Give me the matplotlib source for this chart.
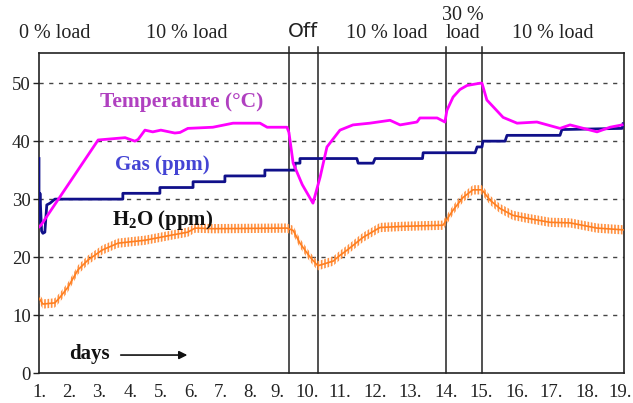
import matplotlib
matplotlib.use("Agg")
import matplotlib.pyplot as plt
import numpy as np

SERIF = "Liberation Serif"
plt.rcParams["mathtext.fontset"] = "custom"
plt.rcParams["mathtext.rm"] = SERIF
plt.rcParams["mathtext.bf"] = SERIF + ":bold"

# x in days
temp_day = [1.0, 1.06, 2.82, 3.65, 3.95, 4.05, 4.26, 4.5, 4.75, 5.18, 5.34, 5.58,
            6.35, 6.97, 7.80, 8.02, 8.63, 8.69, 8.82, 9.10, 9.43, 9.65, 9.86,
            10.26, 10.66, 11.18, 11.80, 12.11, 12.63, 12.72, 13.25, 13.49, 13.55,
            13.74, 13.95, 14.17, 14.57, 14.63, 14.78, 15.28, 15.71, 16.32, 17.03,
            17.34, 18.17, 18.57, 18.94]
temp_val = [25.2, 25.5, 40.2, 40.6, 40.0, 40.3, 41.9, 41.6, 41.9, 41.4, 41.5, 42.2,
            42.4, 43.1, 43.1, 42.4, 42.4, 41.5, 36.2, 32.5, 29.3, 33.8, 39.0,
            41.9, 42.8, 43.1, 43.6, 42.8, 43.3, 44.0, 44.0, 43.3, 45.3,
            47.6, 48.9, 49.6, 50.0, 50.0, 47.1, 44.1, 43.1, 43.3, 42.2,
            42.8, 41.6, 42.4, 42.8]

gas_day = [1.0, 1.0, 1.03, 1.06, 1.08, 1.12, 1.18, 1.24, 1.34, 1.49, 3.58, 3.58,
           4.72, 4.72, 5.74, 5.74, 6.72, 6.72, 7.95, 7.95, 8.88, 8.88, 9.03, 9.03,
           10.78, 10.82, 11.28, 11.34, 12.80, 12.82, 14.42, 14.48, 14.63, 14.66,
           15.34, 15.40, 17.03, 17.09, 18.94, 18.97]
gas_val = [37.0, 26.0, 31.0, 27.0, 24.5, 24.1, 24.3, 29.0, 29.3, 30.0, 30.0, 31.0,
           31.0, 32.0, 32.0, 33.0, 33.0, 34.0, 34.0, 35.0, 35.0, 36.2, 36.2, 37.0,
           37.0, 36.2, 36.2, 37.0, 37.0, 38.0, 38.0, 39.0, 39.0, 40.0,
           40.0, 41.0, 41.0, 42.0, 42.2, 43.0]

h2o_day = [1.0, 1.12, 1.49, 1.65, 1.89, 2.20, 2.51, 2.94, 3.43, 4.26, 5.09, 5.58,
           5.80, 6.35, 8.63, 8.82, 9.03, 9.34, 9.58, 10.05, 10.26, 10.48, 10.97,
           11.49, 12.20, 13.43, 13.74, 14.05, 14.35, 14.63, 14.88, 15.18, 15.58,
           16.02, 16.72, 17.34, 18.17, 18.97]
h2o_val = [12.9, 11.9, 12.1, 13.1, 14.8, 17.8, 19.5, 21.2, 22.4, 22.9, 23.8, 24.3,
           25.0, 24.9, 25.0, 24.6, 22.4, 20.0, 18.5, 19.3, 20.3, 21.2, 23.4,
           25.1, 25.3, 25.5, 28.1, 30.3, 31.6, 31.6, 29.8, 28.4, 27.2,
           26.7, 26.0, 25.9, 25.0, 24.7]

tick_pos = [1.0, 1.92, 2.85, 3.83, 4.75, 5.68, 6.60, 7.49, 8.35, 9.25,
            10.26, 11.34, 12.42, 13.52, 14.60, 15.71, 16.75, 17.86, 18.88]
tick_lab = [f"{i}." for i in range(1, 20)]
y_ticks = [0, 10, 20, 30, 40, 50]

phase_lines = [8.69, 9.58, 13.52, 14.63]
phase_labels = [("0 % load", 1.49, 58.6, SERIF), ("10 % load", 5.55, 58.6, SERIF),
                ("Off", 9.12, 59.0, "DejaVu Sans"), ("10 % load", 11.71, 58.6, SERIF),
                ("30 %\nload", 14.05, 60.1, SERIF), ("10 % load", 16.82, 58.6, SERIF)]

fig = plt.figure(figsize=(6.33, 4.03), dpi=100)
ax = fig.add_axes([0.0616, 0.0744, 0.9242, 0.794])

ax.set_xlim(1, 19)
ax.set_ylim(0, 55.2)

for v in y_ticks[1:]:
    ax.axhline(v, color="#444444", lw=1.0, ls=(0, (3, 4)), zorder=1)

for x in phase_lines:
    ax.plot([x, x], [0, 56.2], color="#222222", lw=1.1, clip_on=False, zorder=2)

plt.rcParams["hatch.linewidth"] = 1.2
h = np.array(h2o_val)
ax.fill_between(h2o_day, h - 0.8, h + 0.8, facecolor="none", edgecolor="#ff9040",
                hatch="|||||", lw=0, zorder=3)
ax.plot(h2o_day, h2o_val, color="#ff7f20", lw=1.2, zorder=3)
ax.plot(gas_day, gas_val, color="#10108a", lw=2.0, zorder=4)
ax.plot(temp_day, temp_val, color="#ff00ff", lw=2.0, zorder=5)

ax.set_xticks(tick_pos)
ax.set_xticklabels(tick_lab, fontfamily=SERIF, fontsize=13.5)
ax.set_yticks(y_ticks)
ax.set_yticklabels([str(v) for v in y_ticks], fontfamily=SERIF, fontsize=13.5)
ax.tick_params(axis="x", length=0, pad=8, colors="#222222")
ax.tick_params(axis="y", length=4, width=1, pad=2, colors="#222222")
for s in ax.spines.values():
    s.set_color("#222222")
    s.set_linewidth(1.2)

ax.text(5.4, 46.7, "Temperature (°C)", color="#b040c0", fontfamily=SERIF,
        fontsize=15.5, fontweight="bold", ha="center", va="center")
ax.text(4.8, 35.8, "Gas (ppm)", color="#4444d4", fontfamily=SERIF,
        fontsize=15, fontweight="bold", ha="center", va="center")
ax.text(4.8, 26.4, r"H$_{\mathbf{2}}$O (ppm)", color="#111111", fontfamily=SERIF,
        fontsize=15, fontweight="bold", ha="center", va="center")
ax.text(2.55, 3.3, "days", color="#111111", fontfamily=SERIF,
        fontsize=15, fontweight="bold", ha="center", va="center")
ax.annotate("", xy=(5.65, 3.1), xytext=(3.43, 3.1),
            arrowprops=dict(arrowstyle="-|>", color="#111111", lw=1.2, mutation_scale=12))

for txt, x, y, fam in phase_labels:
    ax.text(x, y, txt, fontfamily=fam, fontsize=14.5, ha="center", va="center",
            color="#222222", clip_on=False, linespacing=0.95)

fig.savefig("out.png", dpi=100)
